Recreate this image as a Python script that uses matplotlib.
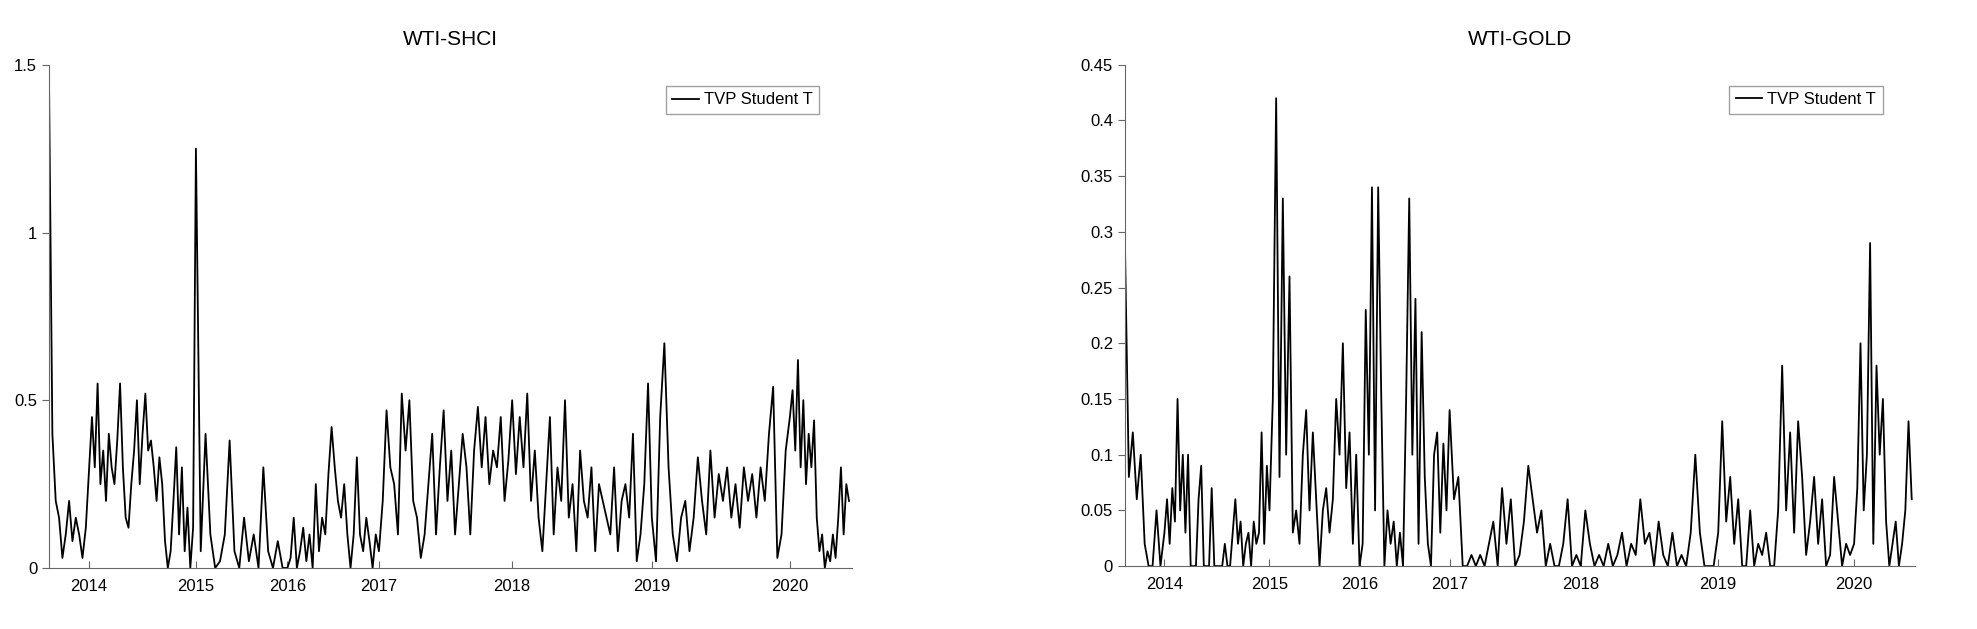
import numpy as np
import matplotlib
matplotlib.use("Agg")
import matplotlib.pyplot as plt

plt.rcParams["font.family"] = ["Liberation Sans Narrow", "Liberation Sans", "DejaVu Sans"]

YEARS = ["2014", "2015", "2016", "2017", "2018", "2019", "2020"]
# year tick positions as fraction of sample (trading-day index)
YEAR_POS = [0.050, 0.183, 0.297, 0.411, 0.577, 0.751, 0.923]

# WTI-SHCI, one list per calendar block (2013 tail ... 2020)
shci_2013 = [1.45, 0.4, 0.2, 0.15, 0.03, 0.1, 0.2, 0.08, 0.15, 0.1, 0.03, 0.12]
shci_2014 = [0.3, 0.45, 0.3, 0.55, 0.25, 0.35, 0.2, 0.4, 0.3, 0.25, 0.38, 0.55, 0.3, 0.15,
             0.12, 0.25, 0.35, 0.5, 0.25, 0.4, 0.52, 0.35, 0.38, 0.3, 0.2, 0.33, 0.25, 0.08,
             0.0, 0.05, 0.2, 0.36, 0.1, 0.3, 0.05, 0.18, 0.0, 0.12]
shci_2015 = [1.25, 0.05, 0.4, 0.1, 0.0, 0.02, 0.1, 0.38, 0.05, 0.0, 0.15, 0.02, 0.1, 0.0,
             0.3, 0.05, 0.0, 0.08, 0.0]
shci_2016 = [0.0, 0.03, 0.15, 0.0, 0.05, 0.12, 0.02, 0.1, 0.0, 0.25, 0.05, 0.15, 0.1, 0.28,
             0.42, 0.3, 0.2, 0.15, 0.25, 0.1, 0.0, 0.1, 0.33, 0.1, 0.05, 0.15, 0.08, 0.0, 0.1]
shci_2017 = [0.05, 0.2, 0.47, 0.3, 0.25, 0.1, 0.52, 0.35, 0.5, 0.2, 0.15, 0.03, 0.1, 0.25,
             0.4, 0.1, 0.3, 0.47, 0.2, 0.35, 0.1, 0.25, 0.4, 0.3, 0.1, 0.35, 0.48, 0.3, 0.45,
             0.25, 0.35, 0.3, 0.45, 0.2, 0.32]
shci_2018 = [0.5, 0.28, 0.45, 0.3, 0.52, 0.2, 0.35, 0.15, 0.05, 0.25, 0.45, 0.1, 0.3, 0.2,
             0.5, 0.15, 0.25, 0.05, 0.35, 0.2, 0.15, 0.3, 0.05, 0.25, 0.2, 0.15, 0.1, 0.3,
             0.05, 0.2, 0.25, 0.15, 0.4, 0.02, 0.1, 0.25, 0.55]
shci_2019 = [0.15, 0.02, 0.45, 0.67, 0.3, 0.1, 0.02, 0.15, 0.2, 0.05, 0.15, 0.33, 0.2, 0.1,
             0.35, 0.15, 0.28, 0.2, 0.3, 0.15, 0.25, 0.12, 0.3, 0.2, 0.28, 0.15, 0.3, 0.2,
             0.4, 0.54, 0.03, 0.1, 0.35]
shci_2020 = [0.45, 0.53, 0.35, 0.62, 0.3, 0.5, 0.25, 0.4, 0.3, 0.44, 0.15, 0.05, 0.1, 0.0,
             0.05, 0.02, 0.1, 0.03, 0.15, 0.3, 0.1, 0.25, 0.2]

# WTI-GOLD
gold_2013 = [0.29, 0.08, 0.12, 0.06, 0.1, 0.02, 0.0, 0.0, 0.05, 0.0]
gold_2014 = [0.03, 0.06, 0.02, 0.07, 0.04, 0.15, 0.05, 0.1, 0.03, 0.1, 0.0, 0.0, 0.0, 0.06,
             0.09, 0.0, 0.0, 0.0, 0.07, 0.0, 0.0, 0.0, 0.0, 0.02, 0.0, 0.0, 0.03, 0.06, 0.02,
             0.04, 0.0, 0.02, 0.03, 0.0, 0.04, 0.02, 0.03, 0.12, 0.02, 0.09]
gold_2015 = [0.05, 0.15, 0.42, 0.08, 0.33, 0.1, 0.26, 0.03, 0.05, 0.02, 0.1, 0.14, 0.05,
             0.12, 0.06, 0.0, 0.05, 0.07, 0.03, 0.06, 0.15, 0.1, 0.2, 0.07, 0.12, 0.02, 0.1]
gold_2016 = [0.0, 0.02, 0.23, 0.1, 0.34, 0.05, 0.34, 0.15, 0.0, 0.05, 0.02, 0.04, 0.0, 0.03,
             0.0, 0.15, 0.33, 0.1, 0.24, 0.02, 0.21, 0.08, 0.02, 0.0, 0.1, 0.12, 0.03, 0.11, 0.05]
gold_2017 = [0.14, 0.06, 0.08, 0.0, 0.0, 0.01, 0.0, 0.01, 0.0, 0.02, 0.04, 0.0, 0.07, 0.02,
             0.06, 0.0, 0.01, 0.04, 0.09, 0.06, 0.03, 0.05, 0.0, 0.02, 0.0, 0.0, 0.02, 0.06,
             0.0, 0.01]
gold_2018 = [0.0, 0.05, 0.02, 0.0, 0.01, 0.0, 0.02, 0.0, 0.01, 0.03, 0.0, 0.02, 0.01, 0.06,
             0.02, 0.03, 0.0, 0.04, 0.01, 0.0, 0.03, 0.0, 0.01, 0.0, 0.03, 0.1, 0.03, 0.0,
             0.0, 0.0]
gold_2019 = [0.03, 0.13, 0.04, 0.08, 0.02, 0.06, 0.0, 0.0, 0.05, 0.0, 0.02, 0.01, 0.03, 0.0,
             0.0, 0.05, 0.18, 0.05, 0.12, 0.03, 0.13, 0.08, 0.01, 0.04, 0.08, 0.02, 0.06,
             0.0, 0.01, 0.08, 0.04, 0.0, 0.02, 0.01]
gold_2020 = [0.02, 0.07, 0.2, 0.05, 0.1, 0.29, 0.02, 0.18, 0.1, 0.15, 0.04, 0.0, 0.02, 0.04,
             0.0, 0.02, 0.05, 0.13, 0.06]

SHCI = [shci_2013, shci_2014, shci_2015, shci_2016, shci_2017, shci_2018, shci_2019, shci_2020]
GOLD = [gold_2013, gold_2014, gold_2015, gold_2016, gold_2017, gold_2018, gold_2019, gold_2020]


def build(blocks):
    # spread each block's points over its calendar span
    edges = [0.0] + YEAR_POS + [1.0]
    xs, ys = [], []
    for i, b in enumerate(blocks):
        x = np.linspace(edges[i], edges[i + 1], len(b), endpoint=False)
        xs.extend(x); ys.extend(b)
    return np.array(xs), np.array(ys)


def panel(fig, rect, blocks, title, ymax, yticks, yfmt):
    ax = fig.add_axes(rect)
    x, y = build(blocks)
    ax.plot(x, y, color="black", lw=1.3, label="TVP Student T")
    ax.set_xlim(0, 1); ax.set_ylim(0, ymax)
    ax.set_xticks(YEAR_POS); ax.set_xticklabels(YEARS)
    ax.set_yticks(yticks); ax.set_yticklabels([yfmt(v) for v in yticks])
    for s in ("top", "right"):
        ax.spines[s].set_visible(False)
    for s in ("left", "bottom"):
        ax.spines[s].set_color("#666")
    ax.tick_params(axis="x", direction="in", length=5, color="#666", labelsize=12, pad=8)
    ax.tick_params(axis="y", direction="out", length=5, color="#666", labelsize=12)
    ax.set_title(title, fontsize=15, pad=14)
    leg = ax.legend(loc="upper right", bbox_to_anchor=(0.97, 0.975), fontsize=12,
                    fancybox=False, handlelength=1.6, handletextpad=0.3, borderpad=0.4)
    leg.get_frame().set_edgecolor("#888")
    return ax


fig = plt.figure(figsize=(19.77, 6.29), dpi=100)
panel(fig, [0.0248, 0.097, 0.406, 0.80], SHCI, "WTI-SHCI", 1.5, [0, 0.5, 1, 1.5],
      lambda v: f"{v:g}")
panel(fig, [0.569, 0.100, 0.3996, 0.797], GOLD, "WTI-GOLD", 0.45,
      [0, 0.05, 0.1, 0.15, 0.2, 0.25, 0.3, 0.35, 0.4, 0.45], lambda v: f"{v:g}")
fig.savefig("out.png", dpi=100, facecolor="white")
